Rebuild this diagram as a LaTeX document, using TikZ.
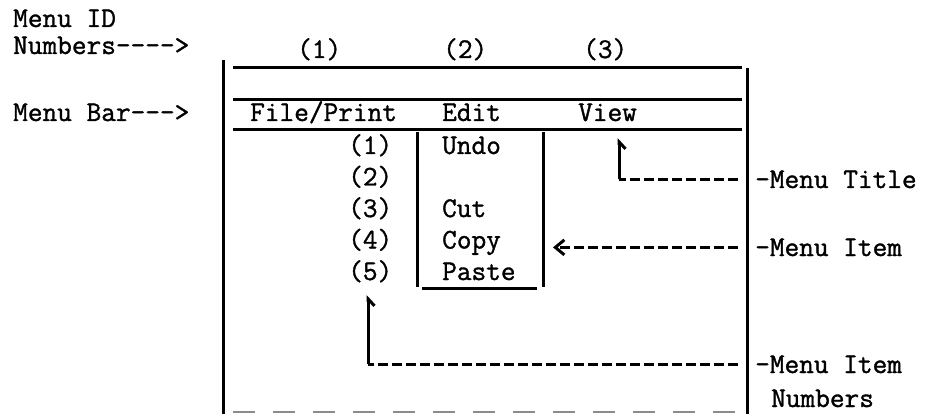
\documentclass[tikz,border=0pt]{standalone}
\usepackage{fontspec}
\newfontfamily\typer[FakeBold=1.2]{Latin Modern Mono}
\usetikzlibrary{arrows.meta}
\begin{document}
\begin{tikzpicture}[x=1pt,y=-1pt,
  txt/.style={anchor=base west,inner sep=0pt,font=\fontsize{28.5}{30}\typer},
  rule/.style={line width=3pt},
  lead/.style={line width=3pt,dash pattern=on 10pt off 4pt},
  hook/.style={line width=3pt,-{Straight Barb[right,length=7pt,width=13pt]}}]
\useasboundingbox (0,0) rectangle (934,414);

% labels on the left
\node[txt] (menuid) at (13,27) {Menu ID};
\node[txt] (idnums) at (13,54) {Numbers---->};
\node[txt] (barlbl) at (13,121) {Menu Bar--->};

% the screen
\draw[rule] (223,60) -- (223,414);
\draw[rule] (747,68) -- (747,414);
\foreach \y in {68,100,130} \draw[rule] (233,\y) -- (742,\y);
\draw[line width=1.6pt,black!45,dash pattern=on 22pt off 18pt] (233,412) -- (742,412);

% menu ID numbers and menu titles
\foreach \x/\n in {297/1,443/2,583/3} \node[txt] (id\n) at (\x,58) {(\n)};
\node[txt] (file) at (250,121) {File/Print};
\node[txt] (edit) at (442,121) {Edit};
\node[txt] (view) at (578,121) {View};

% the pulled down Edit menu
\draw[rule] (417,132) -- (417,287);
\draw[rule] (543,132) -- (543,287);
\draw[rule] (422,288) -- (537,288);
\foreach \i/\t in {1/Undo,2/,3/Cut,4/Copy,5/Paste} {
  \node[txt] (num\i) at (348,{154+31.5*(\i-1)}) {(\i)};
  \node[txt] (item\i) at (442,{154+31.5*(\i-1)}) {\t};
}

% notes on the right
\node[txt] (title) at (755,188) {-Menu Title};
\node[txt] (itemlbl) at (755,256) {-Menu Item};
\node[txt] (numlbl) at (755,373) {-Menu Item};
\node[txt] (numlbltwo) at (771,407) {Numbers};

\coordinate (ttip) at (619,138);
\coordinate (itip) at (553,248);
\coordinate (ntip) at (368,295);

\draw[lead] ([xshift=-17pt]title.west) -- (title.west -| ttip) coordinate (tbend);
\draw[hook] (tbend) -- (ttip);
\draw[lead,-{Straight Barb[length=9pt,width=15pt]}] ([xshift=-17pt]itemlbl.west) -- (itemlbl.west -| itip);
\draw[lead] ([xshift=-17pt]numlbl.west) -- (numlbl.west -| ntip) coordinate (nbend);
\draw[hook] (nbend) -- (ntip);

\end{tikzpicture}
\end{document}
